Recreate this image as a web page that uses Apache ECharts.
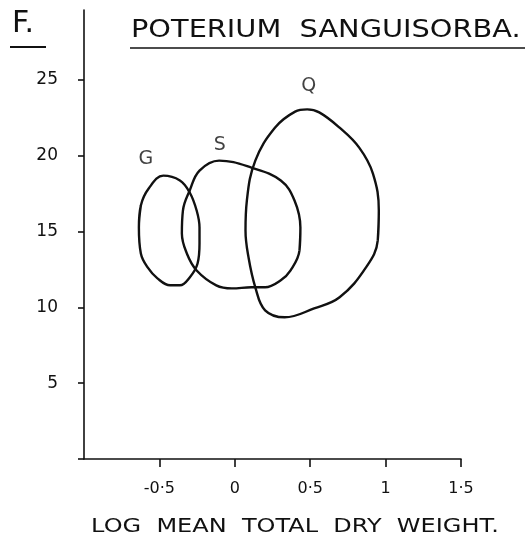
<!DOCTYPE html>
<html>
<head>
<meta charset="utf-8">
<style>
  html, body { margin: 0; padding: 0; background: #fff; }
  #chart { width: 532px; height: 546px; }
</style>
<script src="https://cdn.jsdelivr.net/npm/echarts@6/dist/echarts.min.js"></script>
</head>
<body>
<div id="chart"></div>
<script>
// Outline of each population's range: [log mean total dry weight, y value].
// Each loop repeats its first two points at the end so the join is smooth.
var curveG = [
  [-0.636, 15.26], [-0.623, 16.71], [-0.571, 17.83], [-0.474, 18.68],
  [-0.364, 18.36], [-0.299, 17.57], [-0.253, 16.38], [-0.234, 15.26],
  [-0.234, 14.21], [-0.247, 12.89], [-0.299, 11.97], [-0.364, 11.45],
  [-0.429, 11.45], [-0.513, 11.91], [-0.578, 12.63], [-0.623, 13.55],
  [-0.636, 15.26], [-0.623, 16.71]
];
var curveS = [
  [0.435, 15.26], [0.429, 13.75], [0.370, 12.43], [0.305, 11.78],
  [0.201, 11.32], [0.110, 11.32], [-0.019, 11.25], [-0.123, 11.45],
  [-0.253, 12.43], [-0.318, 13.55], [-0.351, 14.87], [-0.344, 16.38],
  [-0.299, 17.70], [-0.234, 19.01], [-0.104, 19.67], [0.110, 19.21],
  [0.305, 18.36], [0.396, 17.04], [0.435, 15.26], [0.429, 13.75]
];
var curveQ = [
  [0.955, 16.38], [0.948, 14.41], [0.870, 12.63], [0.695, 10.66],
  [0.526, 9.93], [0.331, 9.34], [0.201, 9.80], [0.136, 11.32],
  [0.091, 13.29], [0.071, 15.07], [0.080, 17.04], [0.136, 19.67],
  [0.266, 21.84], [0.400, 22.90], [0.480, 23.05], [0.560, 22.85],
  [0.695, 21.84], [0.825, 20.53], [0.916, 18.82], [0.955, 16.38],
  [0.948, 14.41]
];
// Curve letters and where they sit
var curveNames = ['G', 'S', 'Q'];
var curveLabelPos = [[-0.59, 19.8], [-0.10, 20.7], [0.49, 24.6]];

// Ticks and their labels
var xTickValues = [-0.5, 0, 0.5, 1, 1.5];
var xTickLabels = { '-0.5': '-0·5', '0': '0', '0.5': '0·5', '1': '1', '1.5': '1·5' };
var yTickLabels = { '5': '5', '10': '10', '15': '15', '20': '20', '25': '25' };

var FONT = 'DejaVu Sans';
var INK = '#111';

var chart = echarts.init(document.getElementById('chart'), null, { renderer: 'canvas' });

function curveSeries(name, data) {
  return {
    name: name,
    type: 'line',
    data: data,
    smooth: 0.4,
    showSymbol: false,
    symbol: 'none',
    lineStyle: { color: INK, width: 2.4 },
    silent: true
  };
}

var option = {
  backgroundColor: '#fff',
  animation: false,
  grid: { left: 84, right: 71, top: 10, bottom: 87 },
  xAxis: {
    type: 'value',
    min: -1,
    max: 1.5,
    interval: 0.5,
    splitLine: { show: false },
    axisLine: { onZero: false, lineStyle: { color: INK, width: 1.6 } },
    axisTick: { inside: false, length: 8, customValues: xTickValues, lineStyle: { color: INK, width: 1.6 } },
    axisLabel: {
      color: INK, fontFamily: FONT, fontSize: 16, margin: 22,
      formatter: function (v) { var k = String(Math.round(v * 10) / 10); return xTickLabels[k] || ''; }
    }
  },
  yAxis: {
    type: 'value',
    min: 0,
    max: 29.6,
    interval: 5,
    splitLine: { show: false },
    axisLine: { onZero: false, lineStyle: { color: INK, width: 1.6 } },
    axisTick: { inside: false, length: 6, lineStyle: { color: INK, width: 1.6 } },
    axisLabel: {
      color: INK, fontFamily: FONT, fontSize: 17, margin: 26,
      showMaxLabel: false,
      formatter: function (v) { return yTickLabels[String(Math.round(v))] || ''; }
    }
  },
  series: [
    curveSeries('G', curveG),
    curveSeries('S', curveS),
    curveSeries('Q', curveQ),
    {
      type: 'scatter',
      symbolSize: 0,
      data: curveLabelPos.map(function (p, i) { return { value: p, name: curveNames[i] }; }),
      label: {
        show: true, position: 'inside', formatter: '{b}',
        color: INK, fontFamily: FONT, fontSize: 19
      },
      silent: true
    }
  ],
  graphic: [
    { type: 'text', x: 12, y: 9, style: { text: 'F.', font: '30px "DejaVu Sans"', fill: INK } },
    { type: 'line', shape: { x1: 10, y1: 47, x2: 46, y2: 47 }, style: { stroke: INK, lineWidth: 1.8 } },
    {
      type: 'text', x: 131, y: 19, scaleX: 1.2,
      style: { text: 'POTERIUM  SANGUISORBA.', font: '24px "DejaVu Sans"', fill: INK }
    },
    { type: 'line', shape: { x1: 130, y1: 48, x2: 525, y2: 48 }, style: { stroke: INK, lineWidth: 1.6 } },
    // x-axis title, stretched like the lettering above
    {
      type: 'text', x: 295, y: 527, scaleX: 1.2,
      style: {
        text: 'LOG  MEAN  TOTAL  DRY  WEIGHT.', font: '20px "DejaVu Sans"', fill: INK,
        textAlign: 'center', textVerticalAlign: 'middle'
      }
    }
  ]
};

chart.setOption(option);
</script>
</body>
</html>
